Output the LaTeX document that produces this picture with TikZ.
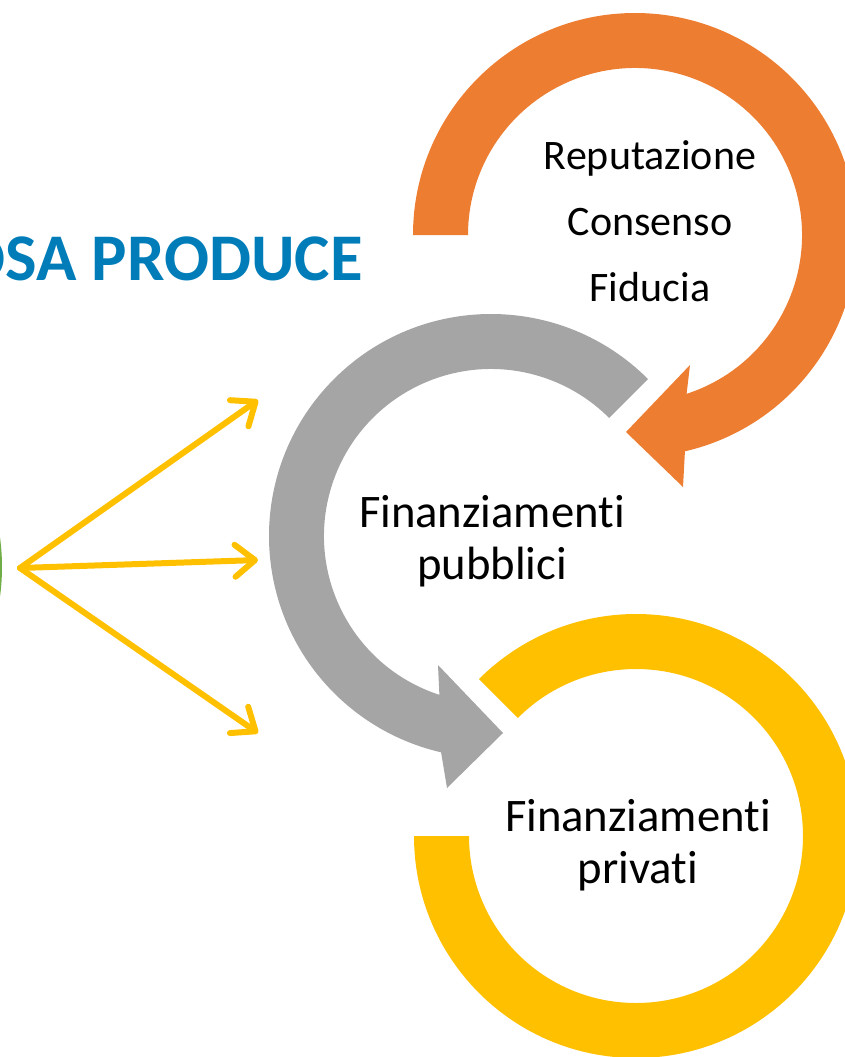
\documentclass[tikz,border=0pt]{standalone}
\usepackage{fontspec}
\setmainfont[Ligatures=NoCommon]{Carlito}
\usepackage{tikz}
\usetikzlibrary{arrows.meta,calc}
\definecolor{arancio}{RGB}{237,125,49}
\definecolor{grigio}{RGB}{165,165,165}
\definecolor{giallo}{RGB}{255,192,0}
\definecolor{verde}{RGB}{112,173,71}
\definecolor{blutitolo}{RGB}{0,125,185}

\begin{document}
\begin{tikzpicture}[x=0.75pt, y=0.75pt,
  freccia/.style={giallo, line width=4.5pt, line cap=round,
    -{Straight Barb[length=15pt, width=24pt, line cap=round, line join=round]}},
  testo/.style={align=center, inner sep=0pt}]
\useasboundingbox (0,0) rectangle (844,-1057);

\coordinate (co) at (635,-235);
\coordinate (cg) at (491,-536);
\coordinate (cy) at (636,-836);

% cerchio verde (tagliato dal bordo)
\fill[verde] (-218,-567) circle (220);

% frecce circolari
\fill[arancio] ($(co)+(180:222)$) arc[start angle=180, end angle=-77, radius=222]
  -- (683,-487) -- (626,-432) -- (690,-365) -- ($(co)+(-72:167)$)
  arc[start angle=-72, end angle=180, radius=167] -- cycle;
\fill[grigio] ($(cg)+(45:222)$) arc[start angle=45, end angle=257, radius=222]
  -- (447,-788) -- (503,-733) -- (438,-665) -- ($(cg)+(252:167)$)
  arc[start angle=252, end angle=45, radius=167] -- cycle;
\fill[giallo] ($(cy)+(180:222)$) arc[start angle=180, end angle=495, radius=222]
  -- ($(cy)+(135:167)$) arc[start angle=495, end angle=180, radius=167] -- cycle;

\node[testo, font=\fontsize{31.5}{49.5}\selectfont] (rep) at (650,-221) {Reputazione\\Consenso\\Fiducia};
\node[testo, font=\fontsize{35}{39}\selectfont] (pub) at (492,-541) {Finanziamenti\\pubblici};
\node[testo, font=\fontsize{35}{39}\selectfont] (priv) at (638,-845) {Finanziamenti\\privati};
\node[anchor=base east, inner sep=0pt, text=blutitolo, font=\bfseries\fontsize{50}{54}\selectfont] (titolo) at (363,-280) {OSA PRODUCE};

% frecce gialle
\coordinate (src) at (20,-568);
\coordinate (a1) at (258,-400);
\coordinate (a2) at (258,-560);
\coordinate (a3) at (258,-733);
\foreach \t in {a1,a2,a3}
  \draw[freccia] (src) -- (\t);

\end{tikzpicture}
\end{document}
